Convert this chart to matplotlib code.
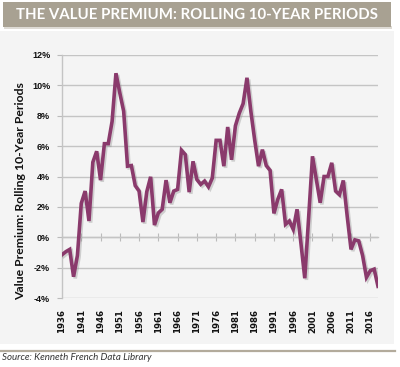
import matplotlib
matplotlib.use("Agg")
import matplotlib.pyplot as plt
import matplotlib.patheffects as pe
from matplotlib.patches import Rectangle
from matplotlib.lines import Line2D

years = list(range(1936, 2019))
premium = [
    -1.15, -0.95, -0.8, -2.6, -1.2,            # 1936-1940
    2.23, 3.04, 1.07, 4.94, 5.66,              # 1941-1945
    3.76, 6.16, 6.16, 7.63, 10.8,              # 1946-1950
    9.5, 8.3, 4.68, 4.72, 3.4,                 # 1951-1955
    3.04, 1.0, 3.0, 3.98, 0.8,                 # 1956-1960
    1.6, 1.84, 3.76, 2.27, 3.04,               # 1961-1965
    3.15, 5.73, 5.44, 2.97, 5.0,               # 1966-1970
    3.8, 3.48, 3.7, 3.32, 3.9,                 # 1971-1975
    6.38, 6.38, 4.68, 7.26, 5.1,               # 1976-1980
    7.34, 8.17, 8.8, 10.5, 8.3,                # 1981-1985
    6.4, 4.68, 5.77, 4.72, 4.4,                # 1986-1990
    1.57, 2.5, 3.15, 0.85, 1.07,               # 1991-1995
    0.52, 1.84, -0.4, -2.7, 1.3,               # 1996-2000
    5.33, 3.8, 2.27, 4.0, 4.0,                 # 2001-2005
    4.9, 3.04, 2.8, 3.74, 1.4,                 # 2006-2010
    -0.8, -0.17, -0.24, -1.2, -2.64,           # 2011-2015
    -2.2, -2.1, -3.23,                         # 2016-2018
]
xtick_years = list(range(1936, 2017, 5))
yticks = [-4, -2, 0, 2, 4, 6, 8, 10, 12]
title = "THE VALUE PREMIUM: ROLLING 10-YEAR PERIODS"
ylabel = "Value Premium: Rolling 10-Year Periods"
source = "Source: Kenneth French Data Library"

W, H = 400, 367
fig = plt.figure(figsize=(W / 100, H / 100), dpi=100)
fig.patch.set_facecolor("white")

def fx(px):
    return px / W

def fy(py):
    return 1 - py / H

# grey panel
fig.add_artist(Rectangle((fx(0), fy(344)), fx(394), (344 - 31) / H,
                         transform=fig.transFigure, facecolor="#f4f4f4",
                         edgecolor="none", zorder=0))
# banner shadow + banner
fig.add_artist(Rectangle((fx(4), fy(29)), fx(388), 3 / H,
                         transform=fig.transFigure, facecolor="#dedbd5",
                         edgecolor="none", zorder=1))
fig.add_artist(Rectangle((fx(3), fy(27)), fx(388), 25 / H,
                         transform=fig.transFigure, facecolor="#a8a192",
                         edgecolor="none", zorder=2))
fig.text(fx(197), fy(15), title, ha="center", va="center", color="white",
         fontsize=10.8, fontweight="bold", family="Lato", zorder=3)
# bottom rule
fig.add_artist(Line2D([0, fx(395)], [fy(351), fy(351)], transform=fig.transFigure,
                      color="#b3ab9c", linewidth=1.6, zorder=2))
fig.text(fx(2), fy(358), source, ha="left", va="center", color="#333333",
         fontsize=7, style="italic", family="Lato")

ax = fig.add_axes([fx(62), fy(298), fx(378) - fx(62), (298 - 55) / H])
ax.set_facecolor("none")
ax.set_xlim(1936, 2018)
ax.set_ylim(-4, 12)
ax.set_yticks(yticks)
ax.set_yticklabels([f"{v}%" for v in yticks], fontsize=6.5, fontweight="bold",
                   family="Liberation Sans", color="#111111")
ax.set_xticks(xtick_years)
ax.set_xticklabels([str(y) for y in xtick_years], rotation=90, fontsize=6.2,
                   fontweight="bold", family="DejaVu Sans", color="#111111")
ax.tick_params(axis="x", length=0, pad=8)
ax.tick_params(axis="y", length=3.5, width=0.8, color="#bbbbbb", pad=5)
ax.grid(axis="y", color="#c4c4c4", linewidth=1.0)
ax.set_axisbelow(True)
for s in ["top", "right", "bottom"]:
    ax.spines[s].set_visible(False)
ax.spines["left"].set_color("#c4c4c4")
ax.spines["left"].set_linewidth(1.0)

# zero-line axis with tick marks
sec = ax.secondary_xaxis(0.25)
sec.set_xticks(xtick_years)
sec.tick_params(axis="x", direction="inout", length=6, width=0.8, color="#bbbbbb",
                labelbottom=False)
sec.spines["bottom"].set_color("#c4c4c4")
sec.spines["bottom"].set_linewidth(1.0)

ax.plot(years, premium, color="#8a3a6c", linewidth=2.6, solid_joinstyle="miter",
        zorder=3,
        path_effects=[pe.SimpleLineShadow(offset=(1.2, -1.2), shadow_color="#888888",
                                          alpha=0.35), pe.Normal()])

ax.set_ylabel(ylabel, fontsize=8.8, fontweight="bold", family="Lato",
              color="#111111")
ax.yaxis.set_label_coords(-0.115, 0.44)

fig.savefig("out.png", dpi=100)
